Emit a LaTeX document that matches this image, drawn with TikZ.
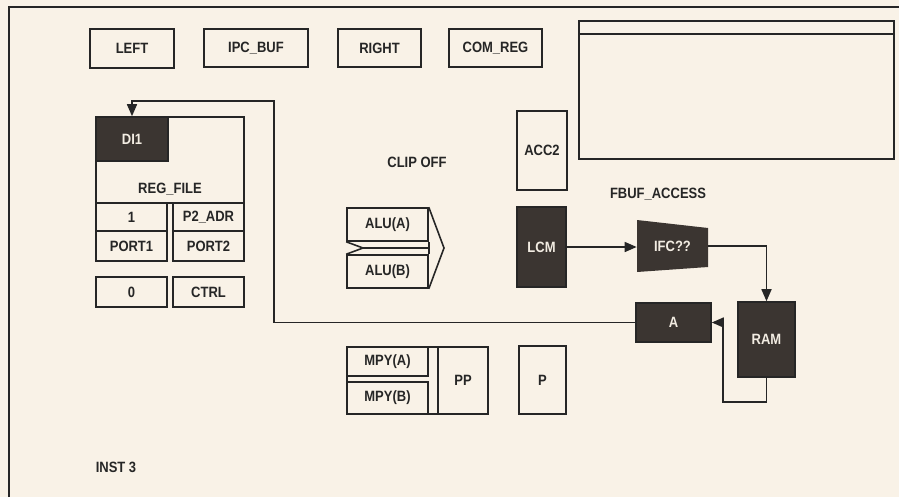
\documentclass[tikz,border=0pt]{standalone}
\usepackage{fontspec}
\setmainfont{Liberation Sans}[FakeStretch=0.87]
\usetikzlibrary{positioning, arrows.meta, calc}
\definecolor{paper}{HTML}{F9F2E7}
\definecolor{ink}{HTML}{262626}
\definecolor{boxdark}{HTML}{3B3531}
\definecolor{pale}{HTML}{F2ECE2}

\begin{document}
\begin{tikzpicture}[x=0.02cm, y=-0.02cm,
  every node/.style={font=\bfseries\fontsize{8.5}{10}\selectfont, text=ink},
  blk/.style={draw=ink, line width=0.9pt, inner sep=0pt},
  dblk/.style={blk, fill=boxdark, text=pale},
  wire/.style={draw=ink, line width=0.9pt},
  arr/.style={wire, -{Triangle[length=0.24cm, width=0.2cm]}}]
\fill[paper] (0,0) rectangle (899,497);
\useasboundingbox (0,0) rectangle (899,497);
\draw[wire] (9,497) -- (9,7) -- (899,7);

\node[blk, minimum width=1.68cm, minimum height=0.78cm] (left) at (132,48.5) {LEFT};
\node[blk, minimum width=2.08cm, minimum height=0.76cm] (ipcbuf) at (256,48) {IPC\_BUF};
\node[blk, minimum width=1.66cm, minimum height=0.76cm] (right) at (379.5,48) {RIGHT};
\node[blk, minimum width=1.86cm, minimum height=0.76cm] (comreg) at (495.5,48) {COM\_REG};
\node[blk, minimum width=6.3cm, minimum height=2.76cm] (panel) at (736.5,90) {};
\draw[wire] ([yshift=-0.28cm]panel.north west) -- ([yshift=-0.28cm]panel.north east);

\node[blk, minimum width=2.96cm, minimum height=1.72cm] (regfile) at (170,160) {};
\node[dblk, minimum width=1.44cm, minimum height=0.88cm] (di1) at (132,139) {DI1};
\node (regfilelbl) at (170,189) {REG\_FILE};
\node[blk, minimum width=1.42cm, minimum height=0.56cm] (one) at (131.5,217) {1};
\node[blk, minimum width=1.42cm, minimum height=0.6cm] (port1) at (131.5,246) {PORT1};
\node[blk, minimum width=1.42cm, minimum height=0.56cm] (p2adr) at (208.5,217) {P2\_ADR};
\node[blk, minimum width=1.42cm, minimum height=0.6cm] (port2) at (208.5,246) {PORT2};
\node[blk, minimum width=1.42cm, minimum height=0.6cm] (zero) at (131.5,292) {0};
\node[blk, minimum width=1.42cm, minimum height=0.6cm] (ctrl) at (208.5,292) {CTRL};

\node (clipoff) at (417,162) {CLIP OFF};
\node[blk, minimum width=1.62cm, minimum height=0.66cm] (alua) at (387.5,224.5) {ALU(A)};
\node[blk, minimum width=1.62cm, minimum height=0.66cm] (alub) at (387.5,271.5) {ALU(B)};
\coordinate (alunotch) at (363,248);
\coordinate (alutip) at (444,248);
\draw[wire] (alua.south west) -- (alunotch) -- (alub.north west);
\draw[wire] (alunotch) -- (alua.east |- alunotch);
\draw[wire] (alua.south east) -- (alub.north east);
\draw[wire, line join=miter] (alua.north east) -- (alutip) -- (alub.south east);

\node[blk, minimum width=1.82cm, minimum height=1.34cm] (mpyframe) at (392.5,380.5) {};
\node[blk, minimum width=1.62cm, minimum height=0.58cm] (mpya) at (387.5,361.5) {MPY(A)};
\node[blk, minimum width=1.62cm, minimum height=0.64cm] (mpyb) at (387.5,398) {MPY(B)};
\node[blk, minimum width=1.0cm, minimum height=1.34cm] (pp) at (463,380.5) {PP};
\node[blk, minimum width=0.94cm, minimum height=1.36cm] (prod) at (542.5,380) {P};

\node[blk, minimum width=1.0cm, minimum height=1.58cm] (acc2) at (542,150.5) {ACC2};
\node[dblk, minimum width=0.98cm, minimum height=1.6cm] (lcm) at (541.5,247) {LCM};
\node (fbuf) at (658,194) {FBUF\_ACCESS};
\fill[boxdark] (637,220) -- (708,228) -- (708,267) -- (637,272) -- cycle;
\node[inner sep=0pt, minimum width=1.42cm, minimum height=1.04cm, text=pale] (ifc) at (672.5,246) {IFC??};
\node[dblk, minimum width=1.14cm, minimum height=1.5cm] (ram) at (766.5,339.5) {RAM};
\node[dblk, minimum width=1.5cm, minimum height=0.78cm] (abuf) at (673.5,322.5) {A};

\node (inst) at (116,467) {INST 3};

\coordinate (ramlow) at (723,402);
\coordinate (fbtop) at (274,101);
\draw[arr] (lcm.east) -- (lcm.east -| ifc.west);
\draw[arr] (ifc.east) -| (ram.north);
\draw[arr] (ram.south) |- (ramlow) |- (abuf.east);
\draw[arr] (abuf.west) -| (fbtop) -| (di1.north);
\end{tikzpicture}
\end{document}
